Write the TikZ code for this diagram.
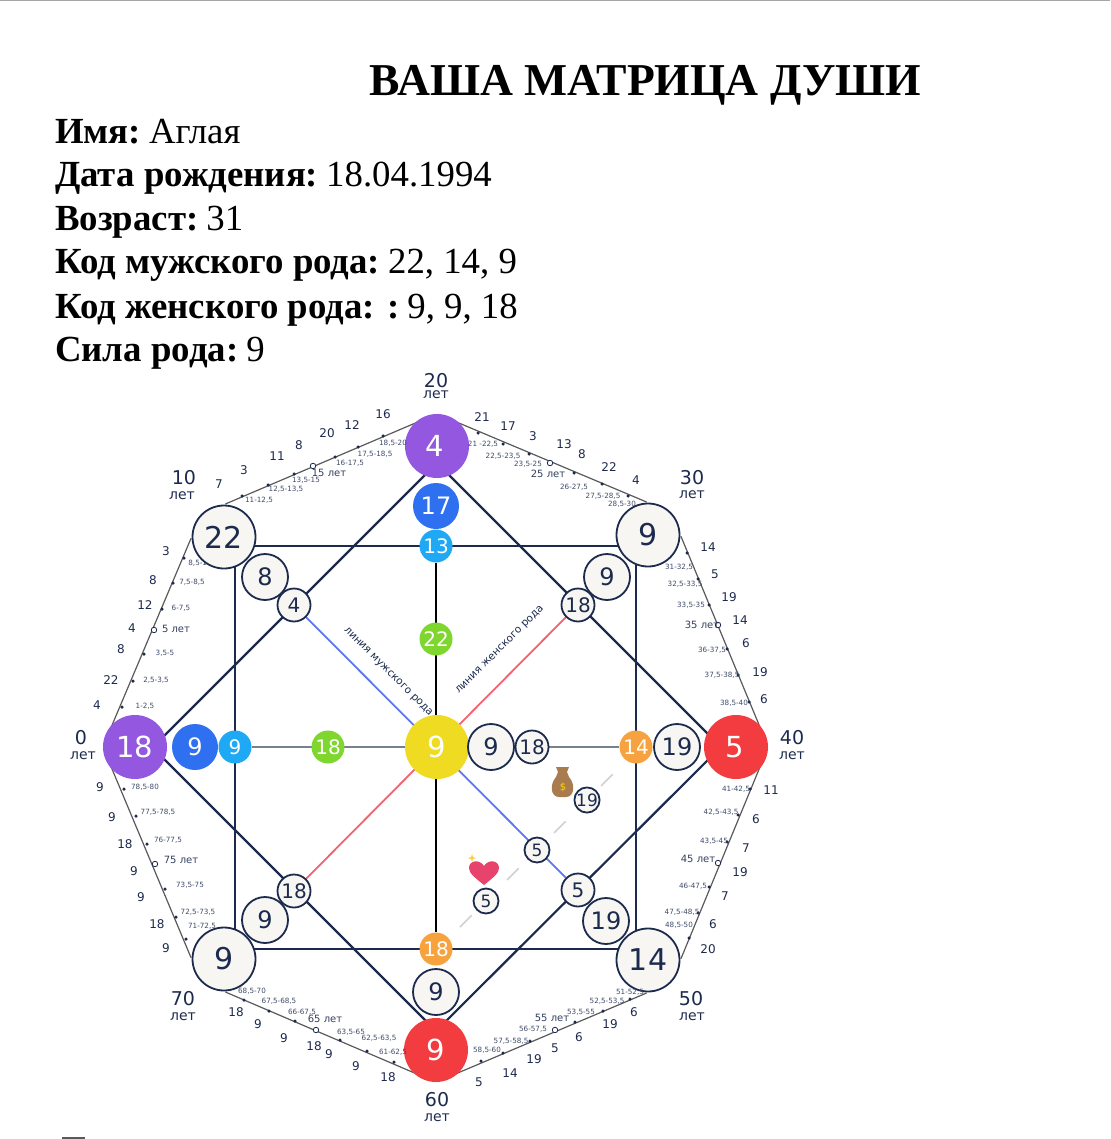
\documentclass[tikz,border=0pt]{standalone}
\usepackage{fontspec}
\setmainfont{Liberation Serif}
\newfontfamily\dejavu{DejaVu Sans}
\usetikzlibrary{backgrounds}
\definecolor{ink}{HTML}{1C2A4D}
\definecolor{ringfill}{HTML}{F7F6F3}
\definecolor{violetc}{HTML}{9457E0}
\definecolor{redc}{HTML}{F23C3F}
\definecolor{yellowc}{HTML}{EFDC22}
\definecolor{bluec}{HTML}{2F70F0}
\definecolor{skyc}{HTML}{1FA9F4}
\definecolor{greenc}{HTML}{7ED62F}
\definecolor{orangec}{HTML}{F6A33F}
\definecolor{malec}{HTML}{5B78F0}
\definecolor{femalec}{HTML}{F2626F}
\definecolor{midgrey}{HTML}{76808F}
\definecolor{bagc}{HTML}{A97C4F}
\definecolor{heartc}{HTML}{E8436C}
\newcommand{\fsz}[1]{\fontsize{#1}{#1}\selectfont}
\newcommand{\fieldgap}{\hspace{8pt}}
\tikzstyle{head} = [anchor=base west,inner sep=0pt,font=\fsz{36.8}]
\tikzstyle{disc} = [circle,inner sep=0pt,text=white,font=\dejavu\fsz{29},minimum size=64pt]
\tikzstyle{ring} = [circle,inner sep=0pt,draw=ink,line width=1.8pt,fill=ringfill,text=ink,font=\dejavu\fsz{30},minimum size=63pt]
\tikzstyle{midring} = [ring,font=\dejavu\fsz{24},minimum size=46pt]
\tikzstyle{smallring} = [ring,font=\dejavu\fsz{20},minimum size=33pt]
\tikzstyle{tinyring} = [ring,font=\dejavu\fsz{17},minimum size=25pt]
\tikzstyle{middisc} = [disc,font=\dejavu\fsz{24},minimum size=46pt]
\tikzstyle{smalldisc} = [disc,font=\dejavu\fsz{20},minimum size=33pt]
\tikzstyle{num} = [inner sep=0pt,text=ink,font=\dejavu\fsz{12}]
\tikzstyle{age} = [inner sep=0pt,text=ink!85,font=\dejavu\fsz{7.2}]
\tikzstyle{mark5} = [inner sep=0pt,text=ink!90,font=\dejavu\fsz{10}]
\tikzstyle{year} = [inner sep=0pt,text=ink,font=\dejavu\fsz{19}]
\tikzstyle{yearword} = [inner sep=0pt,text=ink,font=\dejavu\fsz{14}]
\tikzstyle{dot} = [circle,fill=ink,inner sep=0pt,minimum size=3.5pt]
\tikzstyle{hollow} = [circle,draw=ink,fill=white,line width=.8pt,inner sep=0pt,minimum size=5.5pt]
\tikzstyle{edge} = [draw=black!65,line width=1.2pt,shorten <=1.5pt,shorten >=1.5pt]
\tikzstyle{diag} = [draw=ink,line width=2.2pt]
\begin{document}
\begin{tikzpicture}[x=1pt,y=-1pt]
\useasboundingbox (0,0) rectangle (1110,1139);

% header
\draw[black!35,line width=1.5pt] (0,.5) -- (1110,.5);
\draw[black!65,line width=2pt] (62,1138) -- (85,1138);
\node[anchor=base,inner sep=0pt,font=\fsz{45.6}\bfseries] (title) at (645.5,96) {ВАША МАТРИЦА ДУШИ};
\node[head] (h1) at (55,144) {\textbf{Имя:}\fieldgap Аглая};
\node[head] (h2) at (55,187) {\textbf{Дата рождения:}\fieldgap 18.04.1994};
\node[head] (h3) at (55,231) {\textbf{Возраст:}\fieldgap 31};
\node[head] (h4) at (55,274) {\textbf{Код мужского рода:}\fieldgap 22, 14, 9};
\node[head] (h5) at (55,318) {\textbf{Код женского рода: :}\fieldgap 9, 9, 18};
\node[head] (h6) at (55,361) {\textbf{Сила рода:}\fieldgap 9};

% outer corners
\node[disc,fill=violetc] (v0) at (135,747) {18};
\node[disc,fill=violetc] (v20) at (437,446) {\hspace{-5pt}4};
\node[disc,fill=redc] (v40) at (736,747) {\hspace{-2pt}5};
\node[disc,fill=redc] (v60) at (436,1050) {9};
\node[ring] (v10) at (224,537) {22};
\node[ring] (v30) at (648,535) {9};
\node[ring] (v50) at (648,960) {14};
\node[ring] (v70) at (224,959) {9};
\node[disc,fill=yellowc] (mid) at (437,747) {9};

% rings inside
\node[midring] (r8) at (265,577) {8};
\node[midring] (r9a) at (607,577) {9};
\node[midring] (r19a) at (606,921) {19};
\node[midring] (r9b) at (265,920) {9};
\node[midring] (r9c) at (491,747) {9};
\node[midring] (r19b) at (677,747) {19};
\node[midring] (r9d) at (436,992) {9};
\node[smallring] (s4) at (294,605) {4};
\node[smallring] (s18a) at (578,605) {18};
\node[smallring] (s18b) at (294,891) {18};
\node[smallring] (s5) at (578,890) {5};
\node[smallring] (s18c) at (532,747) {18};
\node[tinyring] (t5a) at (537,850) {5};
\node[tinyring] (t19) at (587,800) {19};
\node[tinyring] (t5b) at (486,901) {5};

% coloured points
\node[middisc,fill=bluec] (b9) at (195,747) {9};
\node[middisc,fill=bluec] (b17) at (436,506) {17};
\node[smalldisc,fill=skyc] (k9) at (235,747) {9};
\node[smalldisc,fill=skyc] (k13) at (436,546) {13};
\node[smalldisc,fill=greenc] (g18) at (328,747) {18};
\node[smalldisc,fill=greenc] (g22) at (436,639) {22};
\node[smalldisc,fill=orangec] (o18) at (436,949) {18};
\node[smalldisc,fill=orangec] (o14) at (636,747) {14};

\coordinate (dash1) at (460,927);
\coordinate (dash2) at (614,773);

\begin{scope}[on background layer]
\draw[edge] (v0.west) -- (v10.west);
\draw[edge] (v10.north) -- (v20.north);
\draw[edge] (v20.north) -- (v30.north);
\draw[edge] (v30.east) -- (v40.east);
\draw[edge] (v40.east) -- (v50.east);
\draw[edge] (v50.south) -- (v60.south);
\draw[edge] (v60.south) -- (v70.south);
\draw[edge] (v70.west) -- (v0.west);
\draw[diag] ([yshift=-18pt]v0.center) -- ([yshift=-17pt]v20.center);
\draw[diag] ([yshift=-17pt]v20.center) -- ([yshift=-15pt]v40.center);
\draw[diag] ([yshift=15pt]v40.center) -- ([yshift=19pt]v60.center);
\draw[diag] ([yshift=17pt]v0.center) -- ([yshift=19pt]v60.center);
\draw[diag] (v10.center |- k13.center) -- (v30.center |- k13.center);
\draw[diag] (v70.center |- o18.center) -- (v50.center |- o18.center);
\draw[diag] (k9.center |- v10.center) -- (k9.center |- v70.center);
\draw[diag] (o14.center |- v30.center) -- (o14.center |- v50.center);
\draw[black,line width=2pt] (k13) -- (o18);
\draw[midgrey,line width=2pt] (k9) -- (o14);
\draw[malec,line width=1.8pt] (s4) -- (s5);
\draw[femalec,line width=1.8pt] (s18a) -- (s18b);
\draw[black!18,line width=1.5pt,dash pattern=on 16.5pt off 50pt] (dash1) -- (dash2);
\end{scope}

\node[inner sep=0pt,rotate=-45,text=ink,font=\dejavu\fsz{10.5}] (malename) at (388,672) {линия мужского рода};
\node[inner sep=0pt,rotate=45,text=ink,font=\dejavu\fsz{10.5}] (femalename) at (500,650) {линия женского рода};

% heart and bag
\fill[bagc] (556,767) -- (569,767) -- (567,772) -- (569,777) .. controls (576,785) and (574,797) .. (566,797) -- (559,797) .. controls (551,797) and (549,785) .. (556,777) -- (558,772) -- cycle;
\node[inner sep=0pt,text=yellow!75!orange,font=\dejavu\fsz{10}] (dollar) at (563,787) {\$};
\fill[heartc] (484,885) .. controls (474,877) and (469,873) .. (469,868) .. controls (469,860) and (480,859) .. (484,866) .. controls (488,859) and (499,860) .. (499,868) .. controls (499,873) and (494,877) .. (484,885) -- cycle;
\fill[yellow!50!orange!70] (472,854) -- (473,857) -- (476,858) -- (473,859) -- (472,862) -- (471,859) -- (468,858) -- (471,857) -- cycle;

% year labels
\node[year] (y20) at (436,381) {20};
\node[yearword] (w20) at (436,395) {лет};
\node[year] (y30) at (692,478) {30};
\node[yearword] (w30) at (692,495) {лет};
\node[year] (y40) at (792,738) {40};
\node[yearword] (w40) at (792,756) {лет};
\node[year] (y50) at (691,999) {50};
\node[yearword] (w50) at (692,1017) {лет};
\node[year] (y60) at (437,1100) {60};
\node[yearword] (w60) at (437,1118) {лет};
\node[year] (y70) at (183,999) {70};
\node[yearword] (w70) at (183,1017) {лет};
\node[year] (y0) at (81,738) {0};
\node[yearword] (w0) at (83,756) {лет};
\node[year] (y10) at (184,478) {10};
\node[yearword] (w10) at (182,496) {лет};

% side 0-10
\node[dot] (a1) at (122,707) {};
\node[dot] (a2) at (133,681) {};
\node[dot] (a3) at (144,654) {};
\node[hollow] (a4) at (154,630) {};
\node[dot] (a5) at (162,609) {};
\node[dot] (a6) at (173,583) {};
\node[dot] (a7) at (184,558) {};
\node[num] (an1) at (97,705) {4};
\node[num] (an2) at (111,680) {22};
\node[num] (an3) at (121,649) {8};
\node[num] (an4) at (132,628) {4};
\node[num] (an5) at (145,605) {12};
\node[num] (an6) at (153,580) {8};
\node[num] (an7) at (166,551) {3};
\node[age] (al1) at (145,706) {1-2,5};
\node[age] (al2) at (156,680) {2,5-3,5};
\node[age] (al3) at (165,653) {3,5-5};
\node[mark5] (al4) at (176,629) {5 лет};
\node[age] (al5) at (181,608) {6-7,5};
\node[age] (al6) at (192,582) {7,5-8,5};
\begin{scope}[on background layer]
\node[age] (al7) at (200,563) {8,5-10};
\end{scope}

% side 10-20
\node[dot] (b1) at (242,496) {};
\node[dot] (b2) at (268,485) {};
\node[dot] (b3) at (294,474) {};
\node[hollow] (b4) at (313,466) {};
\node[dot] (b5) at (335,457) {};
\node[dot] (b6) at (358,447) {};
\node[dot] (b7) at (383,436) {};
\node[num] (bn1) at (219,484) {7};
\node[num] (bn2) at (244,470) {3};
\node[num] (bn3) at (277,456) {11};
\node[num] (bn4) at (299,445) {8};
\node[num] (bn5) at (327,433) {20};
\node[num] (bn6) at (352,425) {12};
\node[num] (bn7) at (383,414) {16};
\node[age] (bl1) at (259,500) {11-12,5};
\node[age] (bl2) at (286,489) {12,5-13,5};
\node[age] (bl3) at (306,480) {13,5-15};
\node[mark5] (bl4) at (329,473) {15 лет};
\node[age] (bl5) at (350,463) {16-17,5};
\node[age] (bl6) at (375,454) {17,5-18,5};
\node[age] (bl7) at (393,443) {18,5-20};

% side 20-30
\node[dot] (c1) at (478,433) {};
\node[dot] (c2) at (503,444) {};
\node[dot] (c3) at (529,454) {};
\node[hollow] (c4) at (550,463) {};
\node[dot] (c5) at (574,473) {};
\node[dot] (c6) at (602,484) {};
\node[dot] (c7) at (628,496) {};
\node[num] (cn1) at (482,417) {21};
\node[num] (cn2) at (508,426) {17};
\node[num] (cn3) at (533,436) {3};
\node[num] (cn4) at (564,444) {13};
\node[num] (cn5) at (582,454) {8};
\node[num] (cn6) at (609,467) {22};
\node[num] (cn7) at (636,480) {4};
\node[age] (cl1) at (483,444) {21 -22,5};
\node[age] (cl2) at (503,456) {22,5-23,5};
\node[age] (cl3) at (528,464) {23,5-25};
\node[mark5] (cl4) at (548,474) {25 лет};
\node[age] (cl5) at (574,487) {26-27,5};
\node[age] (cl6) at (603,496) {27,5-28,5};
\node[age] (cl7) at (622,504) {28,5-30};

% side 30-40
\node[dot] (d1) at (687,553) {};
\node[dot] (d2) at (698,579) {};
\node[dot] (d3) at (709,605) {};
\node[hollow] (d4) at (718,625) {};
\node[dot] (d5) at (727,649) {};
\node[dot] (d6) at (738,675) {};
\node[dot] (d7) at (749,702) {};
\node[num] (dn1) at (708,547) {14};
\node[num] (dn2) at (715,574) {5};
\node[num] (dn3) at (729,597) {19};
\node[num] (dn4) at (740,620) {14};
\node[num] (dn5) at (746,643) {6};
\node[num] (dn6) at (760,672) {19};
\node[num] (dn7) at (764,699) {6};
\node[age] (dl1) at (679,567) {31-32,5};
\node[age] (dl2) at (685,584) {32,5-33,5};
\node[age] (dl3) at (691,605) {33,5-35};
\node[mark5] (dl4) at (702,625) {35 лет};
\node[age] (dl5) at (712,650) {36-37,5};
\node[age] (dl6) at (722,675) {37,5-38,5};
\node[age] (dl7) at (734,703) {38,5-40};

% side 40-50
\node[dot] (e1) at (750,789) {};
\node[dot] (e2) at (738,815) {};
\node[dot] (e3) at (727,842) {};
\node[hollow] (e4) at (718,863) {};
\node[dot] (e5) at (709,887) {};
\node[dot] (e6) at (698,913) {};
\node[dot] (e7) at (689,938) {};
\node[num] (en1) at (771,790) {11};
\node[num] (en2) at (756,819) {6};
\node[num] (en3) at (746,848) {7};
\node[num] (en4) at (740,872) {19};
\node[num] (en5) at (725,896) {7};
\node[num] (en6) at (713,924) {6};
\node[num] (en7) at (708,949) {20};
\node[age] (el1) at (736,789) {41-42,5};
\node[age] (el2) at (721,812) {42,5-43,5};
\node[age] (el3) at (714,841) {43,5-45};
\node[mark5] (el4) at (698,859) {45 лет};
\node[age] (el5) at (693,886) {46-47,5};
\node[age] (el6) at (682,912) {47,5-48,5};
\node[age] (el7) at (679,925) {48,5-50};

% side 50-60
\node[dot] (f1) at (630,999) {};
\node[dot] (f2) at (603,1011) {};
\node[dot] (f3) at (575,1022) {};
\node[hollow] (f4) at (555,1030) {};
\node[dot] (f5) at (530,1041) {};
\node[dot] (f6) at (503,1053) {};
\node[dot] (f7) at (481,1061) {};
\node[num] (fn1) at (634,1012) {6};
\node[num] (fn2) at (610,1024) {19};
\node[num] (fn3) at (579,1037) {6};
\node[num] (fn4) at (555,1048) {5};
\node[num] (fn5) at (534,1059) {19};
\node[num] (fn6) at (510,1073) {14};
\node[num] (fn7) at (479,1082) {5};
\node[age] (fl1) at (630,992) {51-52,5};
\node[age] (fl2) at (607,1001) {52,5-53,5};
\node[age] (fl3) at (581,1012) {53,5-55};
\node[mark5] (fl4) at (552,1018) {55 лет};
\node[age] (fl5) at (533,1029) {56-57,5};
\node[age] (fl6) at (511,1041) {57,5-58,5};
\node[age] (fl7) at (487,1050) {58,5-60};

% side 60-70
\node[dot] (g1) at (394,1062) {};
\node[dot] (g2) at (367,1051) {};
\node[dot] (g3) at (340,1040) {};
\node[hollow] (g4) at (316,1030) {};
\node[dot] (g5) at (295,1021) {};
\node[dot] (g6) at (269,1011) {};
\node[dot] (g7) at (244,1000) {};
\node[num] (gn1) at (388,1077) {18};
\node[num] (gn2) at (356,1066) {9};
\node[num] (gn3) at (329,1054) {9};
\node[num] (gn4) at (314,1046) {18};
\node[num] (gn5) at (284,1038) {9};
\node[num] (gn6) at (258,1024) {9};
\node[num] (gn7) at (236,1012) {18};
\node[age] (gl1) at (393,1052) {61-62,5};
\node[age] (gl2) at (379,1038) {62,5-63,5};
\node[age] (gl3) at (351,1032) {63,5-65};
\node[mark5] (gl4) at (325,1019) {65 лет};
\node[age] (gl5) at (302,1012) {66-67,5};
\node[age] (gl6) at (279,1001) {67,5-68,5};
\node[age] (gl7) at (252,991) {68,5-70};

% side 70-80
\node[dot] (j1) at (186,939) {};
\node[dot] (j2) at (176,917) {};
\node[dot] (j3) at (165,889) {};
\node[hollow] (j4) at (155,864) {};
\node[dot] (j5) at (147,844) {};
\node[dot] (j6) at (136,816) {};
\node[dot] (j7) at (124,789) {};
\node[num] (jn1) at (166,948) {9};
\node[num] (jn2) at (157,924) {18};
\node[num] (jn3) at (141,897) {9};
\node[num] (jn4) at (134,871) {9};
\node[num] (jn5) at (125,844) {18};
\node[num] (jn6) at (112,817) {9};
\node[num] (jn7) at (100,787) {9};
\node[age] (jl1) at (202,926) {71-72,5};
\node[age] (jl2) at (198,912) {72,5-73,5};
\node[age] (jl3) at (190,885) {73,5-75};
\node[mark5] (jl4) at (181,860) {75 лет};
\node[age] (jl5) at (168,840) {76-77,5};
\node[age] (jl6) at (158,812) {77,5-78,5};
\node[age] (jl7) at (145,787) {78,5-80};
\end{tikzpicture}
\end{document}
